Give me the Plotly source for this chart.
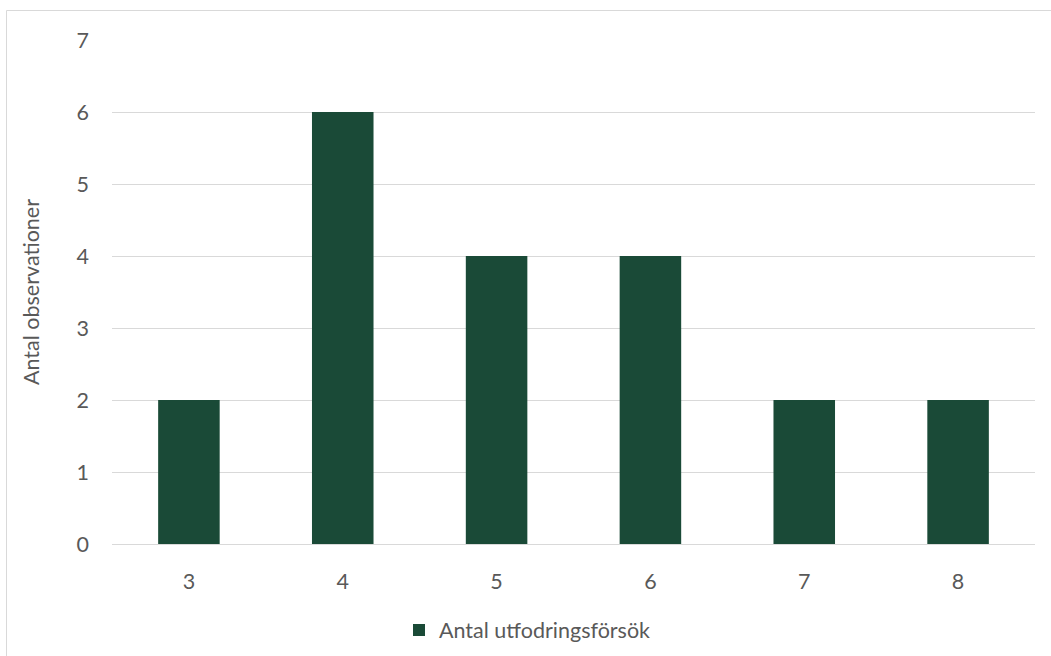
import plotly.graph_objects as go

# Antal utfodringsförsök per observation
forsok = ["3", "4", "5", "6", "7", "8"]
observationer = [2, 6, 4, 4, 2, 2]

W, H = 1051, 656
ML, MR, MT, MB = 112, 16, 40, 112
PW, PH = W - ML - MR, H - MT - MB

def px_x(x):
    return (x - ML) / PW

def px_y(y):
    return (H - MB - y) / PH

text_color = "#595959"
grid_color = "#D9D9D9"
font_family = "Lato, Carlito, Calibri, sans-serif"
fs = 21.5

fig = go.Figure(
    go.Bar(
        x=forsok,
        y=observationer,
        name="Antal utfodringsförsök",
        marker=dict(color="#1A4A37", line=dict(width=0)),
        showlegend=True,
    )
)

fig.update_layout(
    width=W,
    height=H,
    margin=dict(l=ML, r=MR, t=MT, b=MB, autoexpand=False),
    paper_bgcolor="white",
    plot_bgcolor="white",
    bargap=0.6,
    font=dict(family=font_family, size=fs, color=text_color),
    showlegend=True,
    legend=dict(
        orientation="h",
        x=px_x(399),
        xanchor="left",
        y=px_y(630),
        yanchor="middle",
        font=dict(size=fs, color=text_color),
        itemwidth=30,
    ),
    xaxis=dict(
        type="category",
        showgrid=False,
        showline=False,
        ticks="",
        automargin=False,
        ticklabelstandoff=22,
        tickfont=dict(size=fs, color=text_color),
    ),
    yaxis=dict(
        range=[0, 7],
        dtick=1,
        showgrid=True,
        gridcolor=grid_color,
        gridwidth=1,
        zeroline=True,
        zerolinecolor=grid_color,
        zerolinewidth=1,
        showline=False,
        ticks="",
        automargin=False,
        ticklabelstandoff=22,
        tickfont=dict(size=fs, color=text_color),
        title=dict(text="Antal observationer", standoff=30,
                   font=dict(size=fs, color=text_color)),
    ),
    shapes=[
        dict(
            type="rect",
            xref="paper",
            yref="paper",
            x0=px_x(6.5),
            x1=px_x(W + 10),
            y0=px_y(H + 10),
            y1=px_y(10.5),
            line=dict(color=grid_color, width=1),
            fillcolor="rgba(0,0,0,0)",
            layer="below",
        )
    ],
)

fig.write_html("out.html")
